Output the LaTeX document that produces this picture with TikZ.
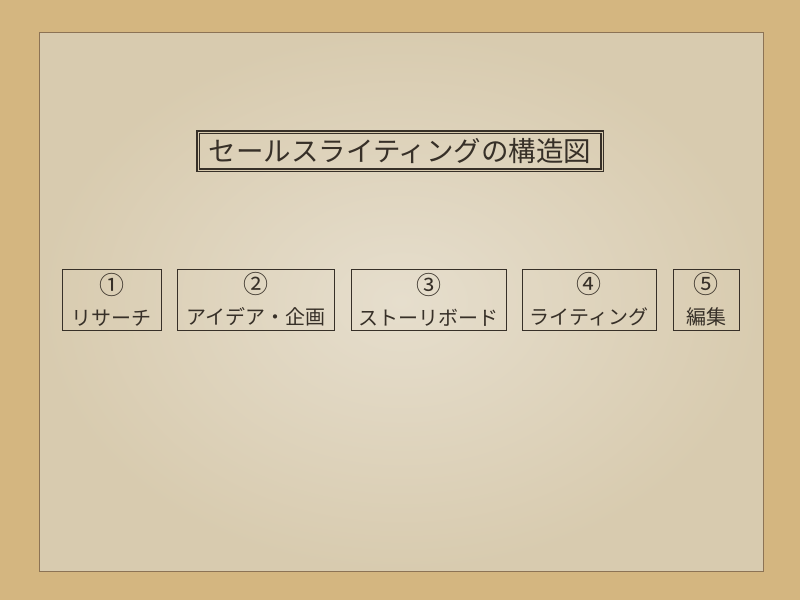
\documentclass[tikz,border=0pt]{standalone}
\usepackage{fontspec}
\setmainfont{Noto Sans CJK JP}
\usepackage{tikz}
\usetikzlibrary{positioning}
\definecolor{sand}{RGB}{212,182,128}
\definecolor{paperlight}{RGB}{230,222,205}
\definecolor{paperdark}{RGB}{216,203,175}
\definecolor{paperedge}{RGB}{140,115,85}
\definecolor{ink}{RGB}{55,48,40}

\begin{document}
\begin{tikzpicture}[x=1pt,y=-1pt,
  stage/.style={draw=ink,line width=0.8pt,minimum height=61pt,inner sep=0pt,
    align=center,text=ink,font=\fontsize{20}{31}\selectfont},
  headline/.style={draw=ink,line width=1.4pt,double=paperdark,double distance=0.7pt,
    minimum width=404pt,minimum height=38pt,inner sep=0pt,text=ink,
    font=\fontsize{27.5}{30}\selectfont}]
\useasboundingbox (0,0) rectangle (800,600);
\fill[sand] (0,0) rectangle (800,600);
\shade[inner color=paperlight,outer color=paperdark,draw=paperedge,line width=0.6pt]
  (39,32) rectangle (763,571);
\node[headline] (title) at (400,151) {セールスライティングの構造図};
\node[stage,minimum width=99pt] (research) at (111.5,299.5) {{\fontsize{25}{31}\selectfont ①}\\リサーチ};
\node[stage,minimum width=157pt] (idea) at (255.5,299.5) {{\fontsize{25}{31}\selectfont ②}\\アイデア・企画};
\node[stage,minimum width=155pt] (story) at (428.5,299.5) {{\fontsize{25}{31}\selectfont ③}\\ストーリボード};
\node[stage,minimum width=134pt] (writing) at (589,299.5) {{\fontsize{25}{31}\selectfont ④}\\ライティング};
\node[stage,minimum width=66pt] (edit) at (706,299.5) {{\fontsize{25}{31}\selectfont ⑤}\\編集};
\end{tikzpicture}
\end{document}
